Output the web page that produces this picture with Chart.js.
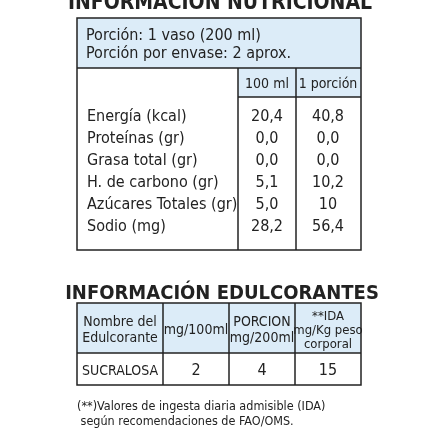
<!DOCTYPE html>
<html><head><meta charset="utf-8">
<script src="https://cdn.jsdelivr.net/npm/chart.js@4"></script>
<style>html,body{margin:0;background:#fff}</style>
</head><body>
<canvas id="c" width="430" height="430"></canvas>
<script>
const servingLines = ['Porción: 1 vaso (200 ml)', 'Porción por envase: 2 aprox.'];
const colHeaders = ['100 ml', '1 porción'];
const nutrients = ['Energía (kcal)', 'Proteínas (gr)', 'Grasa total (gr)', 'H. de carbono (gr)', 'Azúcares Totales (gr)', 'Sodio (mg)'];
const per100 = ['20,4', '0,0', '0,0', '5,1', '5,0', '28,2'];
const perServing = ['40,8', '0,0', '0,0', '10,2', '10', '56,4'];
const sweetHeaders = [['Nombre del', 'Edulcorante'], ['mg/100ml'], ['PORCION', 'mg/200ml'], ['**IDA', 'mg/Kg peso', 'corporal']];
const sweetRow = ['SUCRALOSA', '2', '4', '15'];
const notes = ['(**)Valores de ingesta diaria admisible (IDA)', ' según recomendaciones de FAO/OMS.'];

const F = '"Liberation Sans Narrow","DejaVu Sans Condensed",sans-serif';
const BLUE = '#dcecf8', INK = '#222';

const tablePlugin = {
  id: 'tables',
  afterDraw(chart) {
    const ctx = chart.ctx;
    ctx.save();
    ctx.fillStyle = '#fff'; ctx.fillRect(0, 0, 430, 430);
    ctx.fillStyle = INK; ctx.textAlign = 'center';
    ctx.font = 'bold 21px ' + F;
    ctx.fillText('INFORMACION NUTRICIONAL', 220, 9);

    // table 1
    ctx.fillStyle = BLUE;
    ctx.fillRect(77, 18, 284, 50);
    ctx.fillRect(238, 68, 123, 29);
    ctx.strokeStyle = INK; ctx.lineWidth = 1.5;
    ctx.strokeRect(77, 18, 284, 232);
    const line = (x1, y1, x2, y2) => { ctx.beginPath(); ctx.moveTo(x1, y1); ctx.lineTo(x2, y2); ctx.stroke(); };
    line(77, 68, 361, 68); line(238, 97, 361, 97);
    line(238, 68, 238, 250); line(296, 68, 296, 250);
    ctx.fillStyle = INK;
    ctx.textAlign = 'left'; ctx.font = '16px ' + F;
    servingLines.forEach((t, i) => ctx.fillText(t, 86, 40 + i * 18));
    ctx.textAlign = 'center'; ctx.font = '14px ' + F;
    ctx.fillText(colHeaders[0], 267, 88); ctx.fillText(colHeaders[1], 328, 88);
    ctx.font = '16px ' + F;
    nutrients.forEach((n, i) => {
      const y = 121 + i * 22;
      ctx.textAlign = 'left'; ctx.fillText(n, 87, y);
      ctx.textAlign = 'center'; ctx.fillText(per100[i], 267, y); ctx.fillText(perServing[i], 328, y);
    });

    // table 2
    ctx.font = 'bold 20px ' + F;
    ctx.fillText('INFORMACIÓN EDULCORANTES', 222, 299);
    ctx.fillStyle = BLUE; ctx.fillRect(77, 303, 284, 50);
    ctx.strokeRect(77, 303, 284, 82);
    line(77, 353, 361, 353);
    const xs = [77, 163, 229, 295, 361];
    [1, 2, 3].forEach(i => line(xs[i], 303, xs[i], 385));
    ctx.fillStyle = INK;
    sweetHeaders.forEach((lines, i) => {
      const cx = (xs[i] + xs[i + 1]) / 2;
      const lh = lines.length === 3 ? 14 : 16;
      ctx.font = (lines.length === 3 ? '13px ' : '14px ') + F;
      const y0 = 334 - (lines.length - 1) * lh / 2;
      lines.forEach((t, j) => ctx.fillText(t, cx, y0 + j * lh));
    });
    sweetRow.forEach((t, i) => {
      ctx.font = (i === 0 ? '14px ' : '16px ') + F;
      ctx.fillText(t, (xs[i] + xs[i + 1]) / 2, 375);
    });
    ctx.textAlign = 'left'; ctx.font = '12.5px ' + F;
    notes.forEach((t, i) => ctx.fillText(t, 77, 410 + i * 15));
    ctx.restore();
  }
};

new Chart(document.getElementById('c'), {
  type: 'bar',
  data: { labels: nutrients, datasets: [{ data: [] }] },
  options: {
    responsive: false, animation: false,
    plugins: { legend: { display: false }, tooltip: { enabled: false } },
    scales: { x: { display: false }, y: { display: false } }
  },
  plugins: [tablePlugin]
});
</script>
</body></html>
